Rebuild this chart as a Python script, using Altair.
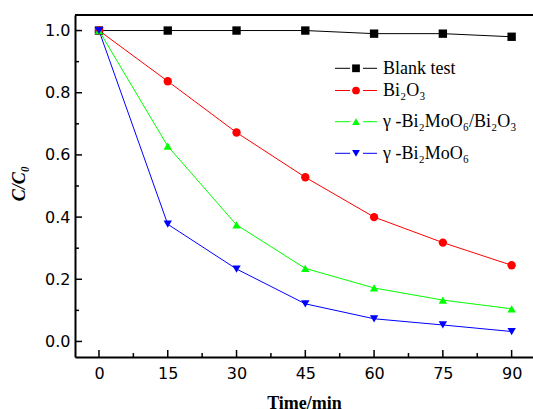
import altair as alt
import pandas as pd

# ---- data ----
time_min = [0, 15, 30, 45, 60, 75, 90]
blank = [1.0, 1.0, 1.0, 1.0, 0.99, 0.99, 0.98]
bi2o3 = [1.0, 0.837, 0.672, 0.528, 0.40, 0.318, 0.245]
composite = [1.0, 0.628, 0.375, 0.235, 0.172, 0.133, 0.105]
bi2moo6 = [1.0, 0.377, 0.233, 0.121, 0.073, 0.053, 0.032]

series_names = ["Blank test", "Bi₂O₃", "γ -Bi₂MoO₆/Bi₂O₃", "γ -Bi₂MoO₆"]
series_values = [blank, bi2o3, composite, bi2moo6]
series_colors = ["#000000", "#ff0000", "#00ff00", "#0000ff"]
series_shapes = ["square", "circle", "triangle-up", "triangle-down"]

x_major = [0, 15, 30, 45, 60, 75, 90]
x_minor = [7.5, 22.5, 37.5, 52.5, 67.5, 82.5]
y_major = [0.0, 0.2, 0.4, 0.6, 0.8, 1.0]
y_minor = [0.1, 0.3, 0.5, 0.7, 0.9]

rows = []
for name, vals in zip(series_names, series_values):
    for t, v in zip(time_min, vals):
        rows.append({"series": name, "t": t, "c": v})
df = pd.DataFrame(rows)

W, H = 458, 342
XDOM = [-5.23, 94.66]
YDOM = [-0.05, 1.05]

xscale = alt.Scale(domain=XDOM, nice=False, zero=False)
yscale = alt.Scale(domain=YDOM, nice=False, zero=False)
color = alt.Color("series:N", scale=alt.Scale(domain=series_names, range=series_colors), legend=None)
shape = alt.Shape("series:N", scale=alt.Scale(domain=series_names, range=series_shapes), legend=None)

x_enc = alt.X("t:Q", scale=xscale,
              axis=alt.Axis(values=x_major, ticks=False, grid=False, domainWidth=2,
                            domainColor="#000", labelFont="DejaVu Sans", labelFontSize=16,
                            labelColor="#000", labelPadding=8, labelFlush=False,
                            title="Time/min", titleFont="Liberation Serif", titleFontSize=18,
                            titleFontWeight="bold", titleColor="#000", titleX=229, titleY=51,
                            titleBaseline="alphabetic", titleAnchor="middle"))
y_enc = alt.Y("c:Q", scale=yscale,
              axis=alt.Axis(values=y_major, format=".1f", ticks=False, grid=False, domainWidth=2,
                            domainColor="#000", labelFont="DejaVu Sans", labelFontSize=16,
                            labelColor="#000", labelPadding=5, labelFlush=False,
                            title="C/C₀", titleFont="Liberation Serif", titleFontSize=18,
                            titleFontWeight="bold", titleFontStyle="italic", titleColor="#000",
                            titleX=-56, titleY=168, titleAngle=-90, titleBaseline="middle"))

base = alt.Chart(df)
lines = base.mark_line(strokeWidth=1).encode(x=x_enc, y=y_enc, color=color, detail="series:N")
points = base.mark_point(filled=True, size=70, opacity=1).encode(
    x=alt.X("t:Q", scale=xscale), y=alt.Y("c:Q", scale=yscale), color=color, shape=shape)

# inward ticks
xmaj = alt.Chart(pd.DataFrame({"t": x_major})).mark_rule(color="#000", strokeWidth=1.5).encode(
    x=alt.X("t:Q", scale=xscale), y=alt.value(H), y2=alt.value(H - 7))
xmin = alt.Chart(pd.DataFrame({"t": x_minor})).mark_rule(color="#000", strokeWidth=1.5).encode(
    x=alt.X("t:Q", scale=xscale), y=alt.value(H), y2=alt.value(H - 4))
ymaj = alt.Chart(pd.DataFrame({"c": y_major})).mark_rule(color="#000", strokeWidth=1.5).encode(
    y=alt.Y("c:Q", scale=yscale), x=alt.value(0), x2=alt.value(7))
ymin = alt.Chart(pd.DataFrame({"c": y_minor})).mark_rule(color="#000", strokeWidth=1.5).encode(
    y=alt.Y("c:Q", scale=yscale), x=alt.value(0), x2=alt.value(4))

one = pd.DataFrame({"k": [0]})
top_border = alt.Chart(one).mark_rule(color="#000", strokeWidth=2).encode(
    y=alt.value(0), x=alt.value(0), x2=alt.value(W))

# legend (layout)
leg_sym_y = [53.3, 75.5, 106.7, 138.3]
leg_layers = []
for name, col, shp, yy in zip(series_names, series_colors, series_shapes, leg_sym_y):
    d = pd.DataFrame({"label": [name]})
    c = alt.Chart(d)
    leg_layers.append(c.mark_rule(color=col, strokeWidth=1).encode(
        x=alt.value(260), x2=alt.value(275), y=alt.value(yy)))
    leg_layers.append(c.mark_rule(color=col, strokeWidth=1).encode(
        x=alt.value(288), x2=alt.value(302), y=alt.value(yy)))
    leg_layers.append(c.mark_point(filled=True, size=60, opacity=1, color=col, shape=shp).encode(
        x=alt.value(281), y=alt.value(yy)))
    leg_layers.append(c.mark_text(align="left", baseline="alphabetic", font="Liberation Serif",
                                  fontSize=18, color="#000").encode(
        x=alt.value(308), y=alt.value(yy + 5.5), text="label:N"))

chart = alt.layer(lines, points, xmaj, xmin, ymaj, ymin, top_border, *leg_layers).properties(
    width=W, height=H,
    padding={"left": 75, "top": 15, "right": 0, "bottom": 52},
    autosize=alt.AutoSizeParams(type="none"),
    background="white",
).configure_view(stroke=None)

chart.save("out.html", embed_options={"renderer": "svg", "actions": False})
